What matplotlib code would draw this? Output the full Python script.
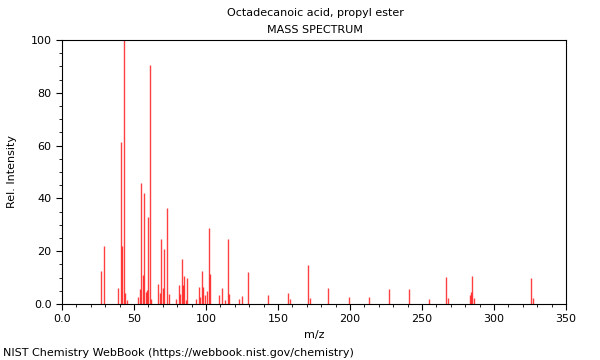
import numpy as np
import matplotlib
matplotlib.use("Agg")
import matplotlib.pyplot as plt
from matplotlib.ticker import MultipleLocator

# m/z and relative intensities
mz = [27, 29, 39, 41, 42, 43, 44, 45, 53, 54, 55, 56, 57, 58, 59, 60, 61, 62,
      67, 68, 69, 70, 71, 73, 74, 79, 81, 82, 83, 84, 85, 86, 87,
      93, 95, 96, 97, 98, 99, 101, 102, 103, 109, 111, 113, 115, 116,
      123, 125, 129, 143, 157, 158, 171, 172, 185, 199, 213, 227, 241,
      255, 267, 268, 283, 284, 285, 286, 326, 327]
intensity = [12.5, 22, 6.2, 61.5, 22, 100, 4, 1.5, 2.8, 5.5, 45.7, 11, 42, 4.4, 5.3, 33, 90.5, 2,
             7.6, 4, 24.5, 6, 21, 36.5, 3.8, 2, 7.2, 3.8, 17, 7.2, 10.6, 1.5, 9.8,
             2, 6.3, 2.8, 12.6, 6.3, 3.5, 4.9, 28.8, 11.4, 3.5, 6.2, 1.7, 24.7, 3.7,
             2, 2.9, 12, 3.5, 4.2, 1.9, 14.8, 2.1, 5.9, 2.7, 2.7, 5.7, 5.6,
             1.9, 10.4, 2.3, 3.5, 4.5, 10.6, 2.3, 9.8, 2.3]

def fmt(v, p):
    return "0.0" if v == 0 else f"{v:.0f}"

fig = plt.figure(figsize=(6, 3.6), dpi=100)
ax = fig.add_axes([62 / 600, 56 / 360, 504 / 600, 264 / 360])

ax.vlines(mz, 0, intensity, colors="#ff0000", linewidth=1.0, alpha=0.75)

ax.set_xlim(0, 350)
ax.set_ylim(0, 100)
ax.xaxis.set_major_locator(MultipleLocator(50))
ax.xaxis.set_minor_locator(MultipleLocator(10))
ax.yaxis.set_major_locator(MultipleLocator(20))
ax.yaxis.set_minor_locator(MultipleLocator(5))
ax.tick_params(labelsize=8, direction="out", length=4, width=0.8)
ax.tick_params(which="minor", length=2, width=0.6)
ax.xaxis.set_major_formatter(plt.FuncFormatter(fmt))
ax.yaxis.set_major_formatter(plt.FuncFormatter(fmt))

for s in ax.spines.values():
    s.set_linewidth(0.8)

ax.set_xlabel("m/z", fontsize=8)
ax.set_ylabel("Rel. Intensity", fontsize=8, labelpad=10)

fig.text(0.525, 1 - 13 / 360, "Octadecanoic acid, propyl ester", ha="center", va="center", fontsize=8)
fig.text(0.525, 1 - 30 / 360, "MASS SPECTRUM", ha="center", va="center", fontsize=8)
fig.text(3 / 600, 1 - 353 / 360, "NIST Chemistry WebBook (https://webbook.nist.gov/chemistry)",
         ha="left", va="center", fontsize=8)

fig.savefig("out.png", dpi=100)
